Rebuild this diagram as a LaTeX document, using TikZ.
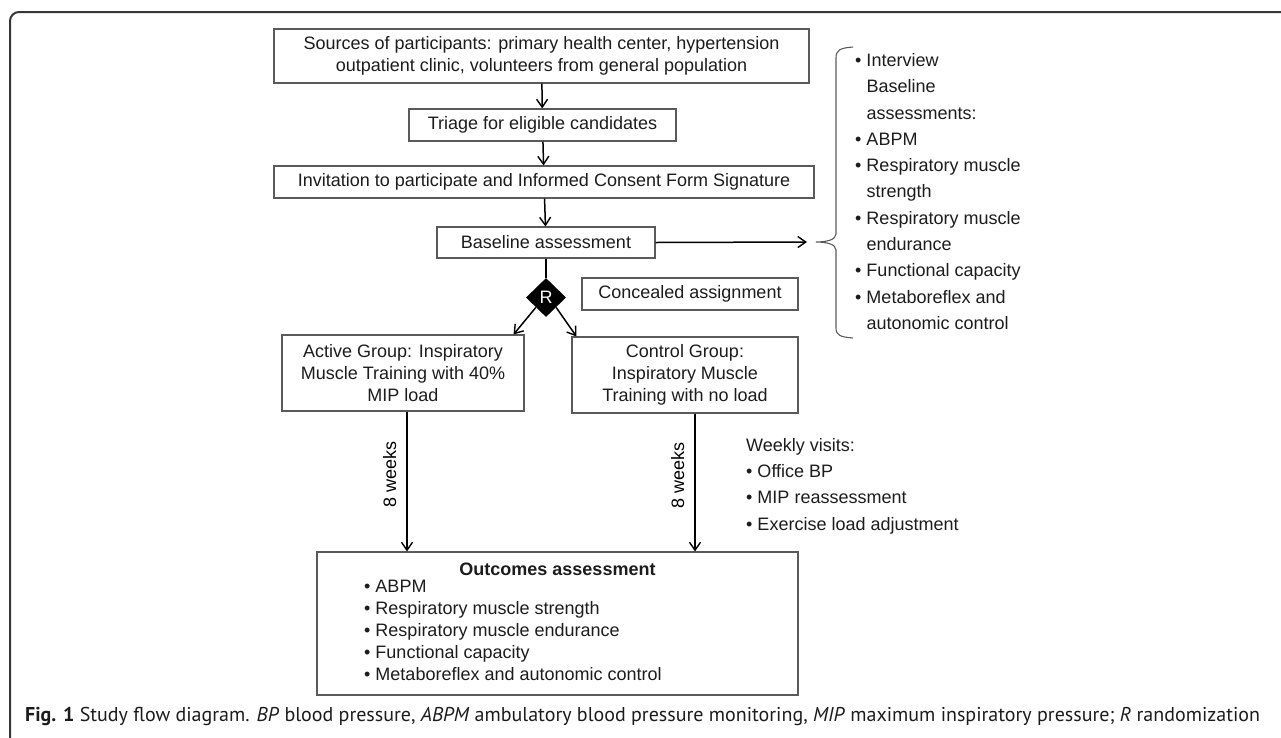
\documentclass[tikz,border=0pt]{standalone}
\usepackage{fontspec}
\setmainfont{Liberation Sans}
\newfontfamily\capfont{PT Sans}
\usetikzlibrary{positioning,arrows.meta,calc,shapes.geometric}
\definecolor{cline}{RGB}{90,90,90}
\definecolor{ctext}{RGB}{28,28,28}
\definecolor{cframe}{RGB}{55,55,55}

\begin{document}
\begin{tikzpicture}[
  x=1pt,y=-1pt,
  font=\fontsize{18}{22}\selectfont, text=ctext,
  box/.style={rectangle,draw=cline,line width=1.1pt,align=center,inner sep=0},
  rnd/.style={diamond,fill=black,text=white,minimum width=40pt,minimum height=39pt,inner sep=0},
  arr/.style={-{Straight Barb[length=8pt,width=11pt,line width=1.4pt]},line width=1.5pt,black},
  lst/.style={align=left,font=\fontsize{18}{26.3}\selectfont,inner sep=0},
  wk/.style={rotate=90,anchor=south,inner sep=10pt},
]
\useasboundingbox (0,0) rectangle (1281,737);
% outer frame
\draw[cframe,line width=2pt,rounded corners=9pt] (10,760) -- (10,12) -- (1300,12);

% main flow
\node[box,minimum width=535pt,minimum height=54pt] (src) at (541.5,56)
  {Sources of participants: primary health center, hypertension\\outpatient clinic, volunteers from general population};
\node[box,minimum width=267pt,minimum height=32pt] (tri) at (542.5,125) {Triage for eligible candidates};
\node[box,minimum width=540pt,minimum height=32pt] (inv) at (544,182)
  {Invitation to participate and Informed Consent Form Signature};
\node[box,minimum width=218pt,minimum height=31pt] (base) at (546,242.5) {Baseline assessment};
\node[rnd] (R) at (546,297.5) {R};
\node[box,minimum width=216pt,minimum height=32pt] (conc) at (690,294) {Concealed assignment};
\node[box,minimum width=242pt,minimum height=76pt] (act) at (403,373)
  {Active Group: Inspiratory\\Muscle Training with 40\%\\MIP load};
\node[box,minimum width=226pt,minimum height=76pt] (ctl) at (685,375)
  {Control Group:\\Inspiratory Muscle\\Training with no load};
\node[box,minimum width=481pt,minimum height=143pt] (out) at (557.5,623.5) {};
\node[inner sep=0] (outt) at (557.5,569) {\textbf{Outcomes assessment}};
\node[align=left,inner sep=0,anchor=north west] (outl) at (364,580)
  {• ABPM\\• Respiratory muscle strength\\• Respiratory muscle endurance\\• Functional capacity\\• Metaboreflex and autonomic control};

\draw[arr] (src) -- (tri);
\draw[arr] (tri) -- (inv);
\draw[arr] (inv) -- (base);
\draw[line width=1.5pt] (base) -- (R);
\draw[arr] (R.south west) -- ([xshift=-11pt]act.north east);
\draw[arr] (R.south east) -- ([xshift=5pt]ctl.north west);

% 8 weeks
\coordinate (as) at ($(act.south)+(4,0)$);
\coordinate (cs) at ($(ctl.south)+(10,0)$);
\draw[arr] (as) -- (as |- out.north) node[wk,pos=.45]{8 weeks};
\draw[arr] (cs) -- (cs |- out.north) node[wk,pos=.45]{8 weeks};
\node[lst,anchor=west] (wv) at (746,486)
  {Weekly visits:\\• Office BP\\• MIP reassessment\\• Exercise load adjustment};

% brace with baseline list
\coordinate (brtip) at (816,242);
\coordinate (brin) at ($(brtip)+(-9,0)$);
\draw[arr] (base.east) -- (brin);
\draw[cline,line width=1.1pt] (853,47) .. controls (840,48) and (836,50) .. (836,58) -- (836,234)
  .. controls (836,240) and (826,242) .. (brtip) .. controls (826,242) and (836,244) .. (836,250)
  -- (836,328) .. controls (836,335) and (840,337) .. (853,338);
\node[lst,anchor=west] (bl) at (855,191.5)
  {• Interview\\\phantom{• }Baseline\\\phantom{• }assessments:\\• ABPM\\• Respiratory muscle\\\phantom{• }strength\\• Respiratory muscle\\\phantom{• }endurance\\• Functional capacity\\• Metaboreflex and\\\phantom{• }autonomic control};

% caption
\node[anchor=west,inner sep=0,font=\capfont\fontsize{20}{24}\selectfont,text=ctext] (cap) at (25,716)
  {\textbf{Fig. 1} Study flow diagram. \textit{BP} blood pressure, \textit{ABPM} ambulatory blood pressure monitoring, \textit{MIP} maximum inspiratory pressure; \textit{R} randomization};
\end{tikzpicture}
\end{document}
